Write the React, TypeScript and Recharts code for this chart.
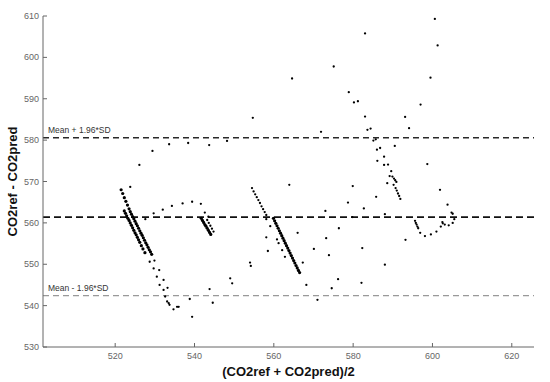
import React from "react";
import {
  ScatterChart,
  Scatter,
  XAxis,
  YAxis,
  ReferenceLine,
} from "recharts";

// Bland-Altman: mean difference and limits of agreement
const meanDiff = 561.4;
const upperLoA = 580.6;
const lowerLoA = 542.4;

const xTicks = [520, 540, 560, 580, 600, 620];
const yTicks = [530, 540, 550, 560, 570, 580, 590, 600, 610];

// [mean, difference] pairs
const leftLineA = [
  [522.3, 562.9], [522.6, 562.3], [522.9, 561.7], [523.2, 561.1], [523.5, 560.6],
  [523.8, 560.0], [524.1, 559.4], [524.4, 558.8], [524.7, 558.2], [525.0, 557.6],
  [525.3, 557.1], [525.6, 556.5], [525.9, 555.9], [526.2, 555.3], [526.6, 554.5],
  [527.0, 553.7], [527.5, 552.8],
];

const leftLineB = [
  [521.5, 568.0], [521.9, 567.1], [522.3, 566.1], [522.7, 565.2], [523.1, 564.3],
  [523.5, 563.4], [523.8, 562.7], [524.1, 562.1], [524.4, 561.5], [524.7, 561.0],
  [525.0, 560.4], [525.3, 559.8], [525.6, 559.3], [525.9, 558.7], [526.2, 558.1],
  [526.5, 557.5], [526.8, 557.0], [527.1, 556.4], [527.4, 555.8], [527.7, 555.2],
  [528.0, 554.7], [528.3, 554.1], [528.6, 553.5], [528.9, 553.0], [529.2, 552.4],
];

const leftTails = [
  [528.7, 550.6], [529.7, 549.0], [530.5, 547.0], [531.2, 545.0], [532.2, 543.8],
  [532.6, 542.2], [533.1, 541.0], [533.5, 540.6], [533.7, 540.2], [529.9, 550.9],
  [531.1, 548.6], [532.2, 546.2], [533.2, 544.3], [534.7, 539.1], [535.6, 539.7],
  [536.0, 539.7], [538.8, 541.6], [539.4, 537.3], [543.8, 544.0], [544.6, 540.7],
];

const leftArcs = [
  [523.8, 568.7], [526.1, 574.0], [529.4, 577.4], [533.6, 579.0], [538.4, 579.3],
  [543.7, 578.8], [548.2, 579.8], [554.7, 585.4],
  [527.6, 560.9], [529.7, 562.3], [532.0, 563.2], [534.3, 564.1], [537.0, 564.7],
  [539.4, 565.1], [541.6, 564.6], [542.6, 562.5], [543.5, 561.5],
];

const shortLines = [
  [541.7, 561.1], [542.0, 560.6], [542.3, 560.1], [542.6, 559.6], [542.9, 559.2],
  [543.2, 558.7], [543.5, 558.2], [543.8, 557.7], [544.1, 557.2],
  [543.2, 560.7], [543.6, 560.0], [544.0, 559.3], [544.4, 558.6], [544.8, 557.9],
];

const midDotted = [
  [554.5, 568.4], [554.9, 567.6], [555.3, 566.9], [555.7, 566.2], [556.1, 565.5],
  [556.5, 564.8], [556.9, 564.0], [557.3, 563.3], [557.7, 562.6], [558.1, 561.9],
];

const midSolid = [
  [559.9, 561.1], [560.2, 560.5], [560.5, 559.9], [560.8, 559.3], [561.1, 558.7],
  [561.4, 558.1], [561.7, 557.5], [562.0, 556.9], [562.3, 556.3], [562.6, 555.7],
  [562.9, 555.1], [563.2, 554.5], [563.5, 553.9], [563.8, 553.3], [564.1, 552.7],
  [564.4, 552.1], [564.7, 551.5], [565.0, 550.9], [565.3, 550.3], [565.6, 549.7],
  [565.9, 549.1], [566.2, 548.5], [566.5, 548.0],
];

const midScatter = [
  [558.1, 560.9], [559.1, 559.2], [558.1, 556.5], [560.8, 556.0], [561.2, 555.1],
  [558.5, 553.2], [562.1, 553.4], [562.8, 551.8], [566.0, 557.6], [567.3, 550.4],
  [570.1, 553.7], [568.2, 545.0], [571.0, 541.4], [554.0, 550.4], [554.2, 549.6],
  [549.0, 546.6], [549.5, 545.4], [563.9, 569.2], [564.6, 594.9], [571.9, 582.0],
  [573.0, 562.9], [573.2, 556.3], [573.9, 552.2], [576.4, 558.7], [576.2, 546.4],
  [574.6, 544.2],
];

const rightScatter = [
  [578.7, 564.9], [579.8, 561.4], [582.3, 553.9], [582.1, 545.5], [582.7, 563.5],
  [588.0, 549.9], [585.8, 566.3], [593.2, 555.9], [583.0, 605.8], [575.1, 597.8],
  [578.9, 591.6], [580.2, 589.1], [581.2, 589.4], [583.0, 585.7], [583.6, 582.5],
  [584.4, 582.8], [585.1, 579.9], [585.7, 580.2], [586.0, 577.7], [586.8, 578.1],
  [590.5, 578.6], [587.8, 576.0], [586.1, 575.0], [587.8, 574.0], [588.8, 574.1],
  [598.7, 574.2], [589.6, 572.5], [589.2, 571.3], [588.6, 569.6], [590.2, 569.2],
  [593.1, 585.6], [594.1, 582.9], [597.0, 588.6], [599.5, 595.1], [601.3, 602.9],
  [600.6, 609.3], [601.9, 568.0], [603.8, 564.4], [604.8, 562.5], [588.0, 562.1],
  [579.9, 568.9],
];

const rightLines = [
  [589.9, 571.2], [590.3, 570.7], [590.6, 570.3], [590.9, 569.9],
  [590.7, 568.4], [591.0, 567.8], [591.3, 567.1], [591.6, 566.5], [591.9, 565.8],
  [595.6, 560.5], [595.8, 560.0], [596.0, 559.6], [596.2, 559.1], [596.4, 558.7],
  [596.9, 557.6], [598.1, 556.8], [599.6, 557.2], [601.0, 557.9], [602.1, 559.1],
  [602.6, 559.9], [605.1, 562.2], [605.5, 560.9], [605.1, 560.0], [604.1, 559.4],
  [603.1, 559.6], [602.5, 560.2],
];

// dense runs drawn with slightly bigger dots so they read as solid strokes
const solidGroups = [leftLineA, leftLineB, midSolid, shortLines.slice(0, 9)];
const dotGroups = [
  leftTails, leftArcs, shortLines.slice(9), midDotted,
  midScatter, rightScatter, rightLines,
];

const toPts = (arr: number[][]) => arr.map(([x, y]) => ({ x, y }));

const FONT = "'Liberation Sans', Arial, Helvetica, sans-serif";
const AXIS = "#666";

const Dot = (props: any) => (
  <circle cx={props.cx} cy={props.cy} r={props.r ?? 1.15} fill="#000" />
);

const XTick = (props: any) => {
  const { x, y, payload } = props;
  return (
    <g>
      <line x1={x} x2={x} y1={y - 4} y2={y - 8} stroke={AXIS} />
      <text x={x} y={y + 8} textAnchor="middle" fontSize={9} fill="#666" fontFamily={FONT}>
        {payload.value}
      </text>
    </g>
  );
};

const YTick = (props: any) => {
  const { x, y, payload } = props;
  return (
    <g>
      <line x1={x + 4} x2={x + 8} y1={y} y2={y} stroke={AXIS} />
      <text x={x} y={y + 3} textAnchor="end" fontSize={9} fill="#666" fontFamily={FONT}>
        {payload.value}
      </text>
    </g>
  );
};

export default function App() {
  return (
    <div style={{ position: "absolute", left: 0, top: 0, background: "#fff" }}>
      <ScatterChart
        width={550}
        height={382}
        margin={{ top: 16, right: 16, bottom: 0, left: 0 }}
        style={{ fontFamily: FONT }}
      >
        <XAxis
          type="number"
          dataKey="x"
          domain={[501.8, 625.6]}
          ticks={xTicks}
          allowDataOverflow
          height={35}
          tickSize={0}
          tickMargin={4}
          tick={<XTick />}
          axisLine={{ stroke: AXIS }}
          label={{
            value: "(CO2ref + CO2pred)/2",
            position: "insideBottom",
            offset: 6,
            fontSize: 13,
            fontWeight: "bold",
            fill: "#111",
          }}
        />
        <YAxis
          type="number"
          dataKey="y"
          domain={[530, 610]}
          ticks={yTicks}
          allowDataOverflow
          width={43}
          tickSize={0}
          tickMargin={4}
          tick={<YTick />}
          axisLine={{ stroke: AXIS }}
          label={{
            value: "CO2ref - CO2pred",
            angle: -90,
            position: "insideLeft",
            offset: 12,
            fontSize: 13,
            fontWeight: "bold",
            fill: "#111",
            style: { textAnchor: "middle" },
          }}
        />
        <XAxis
          xAxisId="top"
          orientation="top"
          type="number"
          domain={[501.8, 625.6]}
          ticks={xTicks}
          allowDataOverflow
          height={0}
          mirror
          tick={false}
          tickSize={4}
          tickLine={{ stroke: AXIS }}
          axisLine={{ stroke: AXIS }}
        />
        <YAxis
          yAxisId="right"
          orientation="right"
          type="number"
          domain={[530, 610]}
          ticks={yTicks}
          allowDataOverflow
          width={0}
          mirror
          tick={false}
          tickSize={4}
          tickLine={{ stroke: AXIS }}
          axisLine={{ stroke: AXIS }}
        />
        <ReferenceLine
          y={upperLoA}
          stroke="#2a2a2a"
          strokeWidth={1.5}
          strokeDasharray="6 4"
          label={{
            value: "Mean + 1.96*SD",
            position: "insideBottomLeft",
            offset: 5,
            fontSize: 8.5,
            fill: "#333",
          }}
        />
        <ReferenceLine y={meanDiff} stroke="#111" strokeWidth={1.9} strokeDasharray="7 4" />
        <ReferenceLine
          y={lowerLoA}
          stroke="#999"
          strokeWidth={1.3}
          strokeDasharray="6 4"
          label={{
            value: "Mean - 1.96*SD",
            position: "insideBottomLeft",
            offset: 5,
            fontSize: 8.5,
            fill: "#333",
          }}
        />
        {solidGroups.map((g, i) => (
          <Scatter
            key={`s${i}`}
            data={toPts(g)}
            shape={<Dot r={1.6} />}
            isAnimationActive={false}
          />
        ))}
        {dotGroups.map((g, i) => (
          <Scatter
            key={`d${i}`}
            data={toPts(g)}
            shape={<Dot r={1.15} />}
            isAnimationActive={false}
          />
        ))}
      </ScatterChart>
    </div>
  );
}
